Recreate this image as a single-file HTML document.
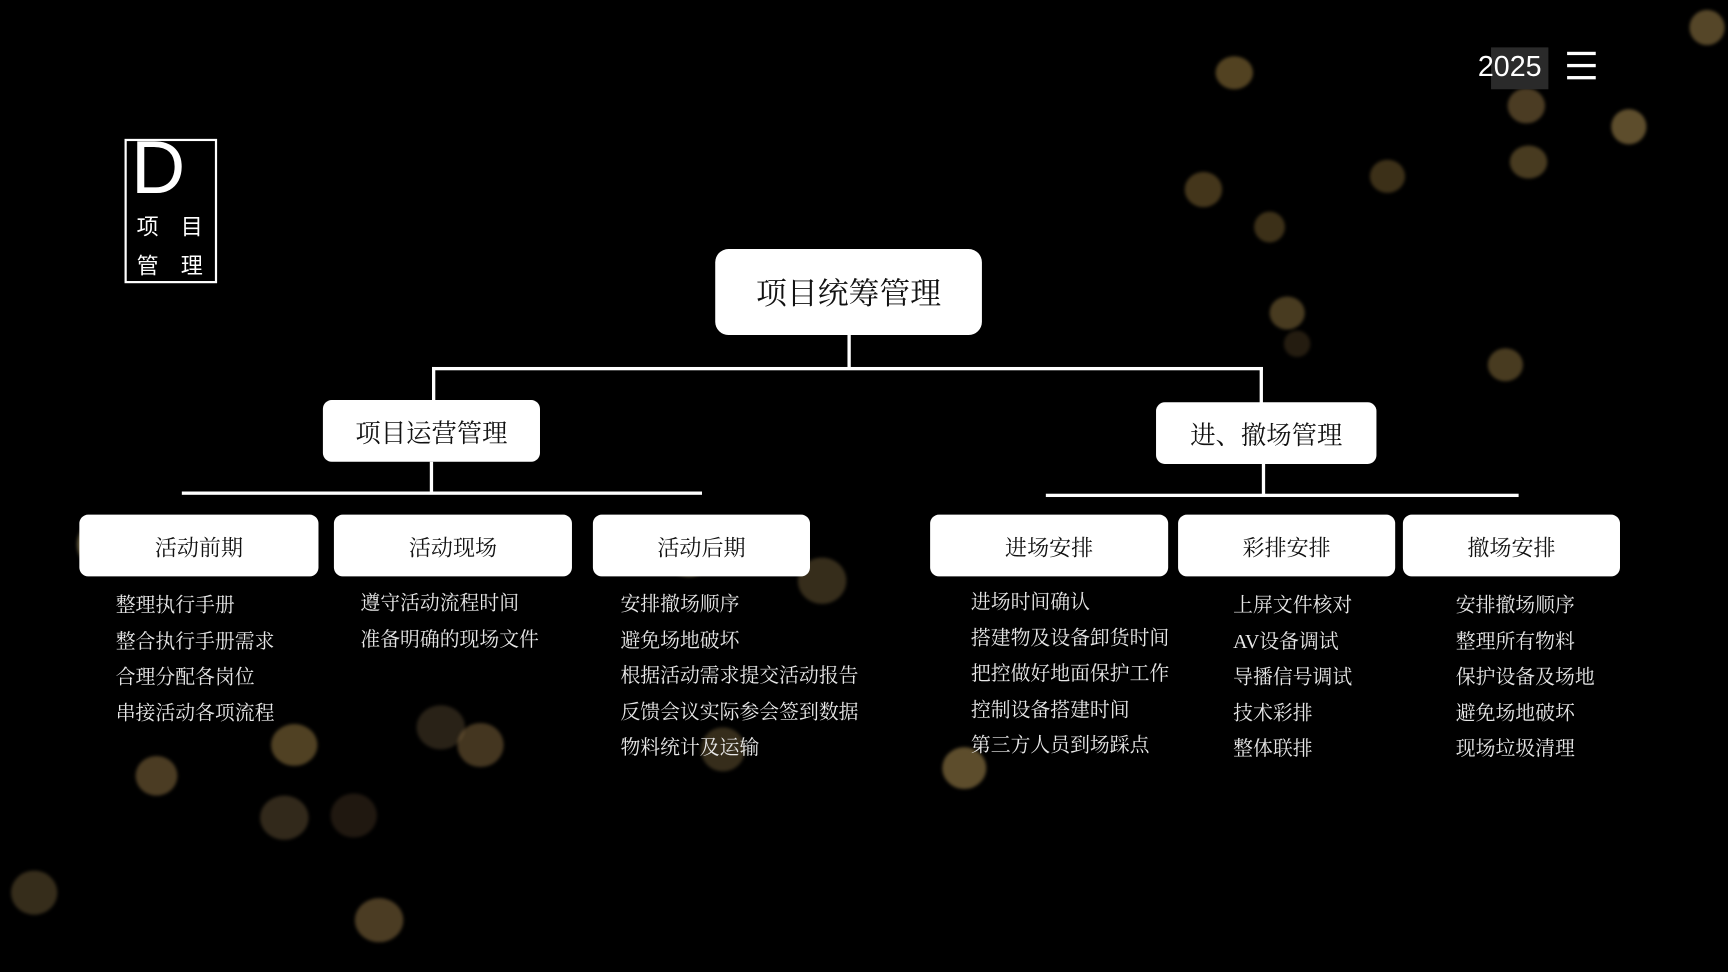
<!DOCTYPE html>
<html><head><meta charset="utf-8"><style>
html,body{margin:0;padding:0;background:#000;width:1728px;height:972px;overflow:hidden}
#s{position:absolute;left:0;top:0;width:1568px;height:882px;transform:scale(1.10204);transform-origin:0 0;background:#000;font-family:"Liberation Serif","Noto Serif CJK SC",serif;color:#fff}
.a{position:absolute}
.b{position:absolute;border-radius:50%;filter:blur(1.5px)}
.box{position:absolute;background:#fff;color:#111;display:flex;align-items:center;justify-content:center}
.l{position:absolute;background:#fff}
.list{position:absolute;font-size:18px;line-height:32.5px;color:#e8e8e8;white-space:nowrap}
.s{font-family:"Liberation Sans","Noto Sans CJK SC",sans-serif}
</style></head><body><div id="s">
<div class="b" style="left:1103px;top:51px;width:34px;height:30px;background:rgba(150,120,60,.55)"></div>
<div class="b" style="left:1368px;top:80px;width:34px;height:32px;background:rgba(150,120,70,.5)"></div>
<div class="b" style="left:1462px;top:99px;width:32px;height:32px;background:rgba(170,140,80,.55)"></div>
<div class="b" style="left:1533px;top:9px;width:32px;height:32px;background:rgba(170,140,80,.5)"></div>
<div class="b" style="left:1075px;top:156px;width:34px;height:32px;background:rgba(150,120,60,.45)"></div>
<div class="b" style="left:1138px;top:192px;width:28px;height:28px;background:rgba(150,120,60,.4)"></div>
<div class="b" style="left:1243px;top:145px;width:32px;height:30px;background:rgba(150,120,60,.4)"></div>
<div class="b" style="left:1370px;top:132px;width:34px;height:30px;background:rgba(160,130,70,.45)"></div>
<div class="b" style="left:1152px;top:269px;width:32px;height:30px;background:rgba(160,130,70,.45)"></div>
<div class="b" style="left:1350px;top:316px;width:32px;height:30px;background:rgba(160,130,70,.45)"></div>
<div class="b" style="left:1165px;top:300px;width:24px;height:24px;background:rgba(90,70,40,.4)"></div>
<div class="b" style="left:123px;top:686px;width:38px;height:36px;background:rgba(150,120,70,.5)"></div>
<div class="b" style="left:246px;top:657px;width:42px;height:38px;background:rgba(160,130,70,.5)"></div>
<div class="b" style="left:236px;top:722px;width:44px;height:40px;background:rgba(110,90,60,.45)"></div>
<div class="b" style="left:378px;top:640px;width:44px;height:40px;background:rgba(90,75,50,.45)"></div>
<div class="b" style="left:415px;top:656px;width:42px;height:40px;background:rgba(150,120,70,.45)"></div>
<div class="b" style="left:300px;top:720px;width:42px;height:40px;background:rgba(80,60,40,.4)"></div>
<div class="b" style="left:322px;top:815px;width:44px;height:40px;background:rgba(150,120,70,.5)"></div>
<div class="b" style="left:10px;top:790px;width:42px;height:40px;background:rgba(120,100,60,.45)"></div>
<div class="b" style="left:855px;top:678px;width:40px;height:38px;background:rgba(170,140,80,.55)"></div>
<div class="b" style="left:724px;top:506px;width:44px;height:42px;background:rgba(120,100,60,.45)"></div>
<div class="b" style="left:636px;top:660px;width:40px;height:40px;background:rgba(120,100,60,.45)"></div>
<div class="b" style="left:70px;top:470px;width:50px;height:48px;background:rgba(200,180,120,.5)"></div>
<div class="b" style="left:600px;top:475px;width:50px;height:48px;background:rgba(200,180,120,.5)"></div>
<div class="b" style="left:1150px;top:470px;width:50px;height:48px;background:rgba(200,180,120,.5)"></div>

<div class="a" style="left:113px;top:126px;width:80px;height:127px;border:2px solid #fff"></div>
<div class="a s" style="left:119px;top:112px;font-size:68px;line-height:80px">D</div>
<div class="a" style="left:124px;top:192px;font-size:20px;line-height:26px;font-family:'Noto Sans CJK SC',sans-serif">项</div>
<div class="a" style="left:164px;top:192px;font-size:20px;line-height:26px;font-family:'Noto Sans CJK SC',sans-serif">目</div>
<div class="a" style="left:124px;top:227px;font-size:20px;line-height:26px;font-family:'Noto Sans CJK SC',sans-serif">管</div>
<div class="a" style="left:164px;top:227px;font-size:20px;line-height:26px;font-family:'Noto Sans CJK SC',sans-serif">理</div>

<div class="a" style="left:1353px;top:43px;width:52px;height:38px;background:#2a2a2a"></div>
<div class="a s" style="left:1341px;top:43px;font-size:26px;line-height:34px">2025</div>
<div class="l" style="left:1422px;top:47px;width:26px;height:3px"></div>
<div class="l" style="left:1422px;top:58px;width:26px;height:3px"></div>
<div class="l" style="left:1422px;top:69px;width:26px;height:3px"></div>

<div class="box" style="left:649px;top:226px;width:242px;height:78px;border-radius:12px;font-size:28px">项目统筹管理</div>
<div class="l" style="left:769px;top:304px;width:3px;height:31px"></div>
<div class="l" style="left:392px;top:333px;width:754px;height:3px"></div>
<div class="l" style="left:392px;top:333px;width:3px;height:31px"></div>
<div class="l" style="left:1143px;top:333px;width:3px;height:33px"></div>

<div class="box" style="left:293px;top:363px;width:197px;height:56px;border-radius:8px;font-size:23px">项目运营管理</div>
<div class="box" style="left:1049px;top:365px;width:200px;height:56px;border-radius:8px;font-size:23px">进、撤场管理</div>

<div class="l" style="left:390px;top:419px;width:3px;height:29px"></div>
<div class="l" style="left:165px;top:446px;width:472px;height:3px"></div>
<div class="l" style="left:1145px;top:421px;width:3px;height:29px"></div>
<div class="l" style="left:949px;top:448px;width:429px;height:3px"></div>

<div class="box" style="left:72px;top:467px;width:217px;height:56px;border-radius:8px;font-size:20px">活动前期</div>
<div class="box" style="left:303px;top:467px;width:216px;height:56px;border-radius:8px;font-size:20px">活动现场</div>
<div class="box" style="left:538px;top:467px;width:197px;height:56px;border-radius:8px;font-size:20px">活动后期</div>
<div class="box" style="left:844px;top:467px;width:216px;height:56px;border-radius:8px;font-size:20px">进场安排</div>
<div class="box" style="left:1069px;top:467px;width:197px;height:56px;border-radius:8px;font-size:20px">彩排安排</div>
<div class="box" style="left:1273px;top:467px;width:197px;height:56px;border-radius:8px;font-size:20px">撤场安排</div>

<div class="list" style="left:105px;top:533px">整理执行手册<br>整合执行手册需求<br>合理分配各岗位<br>串接活动各项流程</div>
<div class="list" style="left:327px;top:531px">遵守活动流程时间<br>准备明确的现场文件</div>
<div class="list" style="left:563px;top:532px">安排撤场顺序<br>避免场地破坏<br>根据活动需求提交活动报告<br>反馈会议实际参会签到数据<br>物料统计及运输</div>
<div class="list" style="left:881px;top:530px">进场时间确认<br>搭建物及设备卸货时间<br>把控做好地面保护工作<br>控制设备搭建时间<br>第三方人员到场踩点</div>
<div class="list" style="left:1119px;top:533px">上屏文件核对<br>AV设备调试<br>导播信号调试<br>技术彩排<br>整体联排</div>
<div class="list" style="left:1321px;top:533px">安排撤场顺序<br>整理所有物料<br>保护设备及场地<br>避免场地破坏<br>现场垃圾清理</div>
</div></body></html>
